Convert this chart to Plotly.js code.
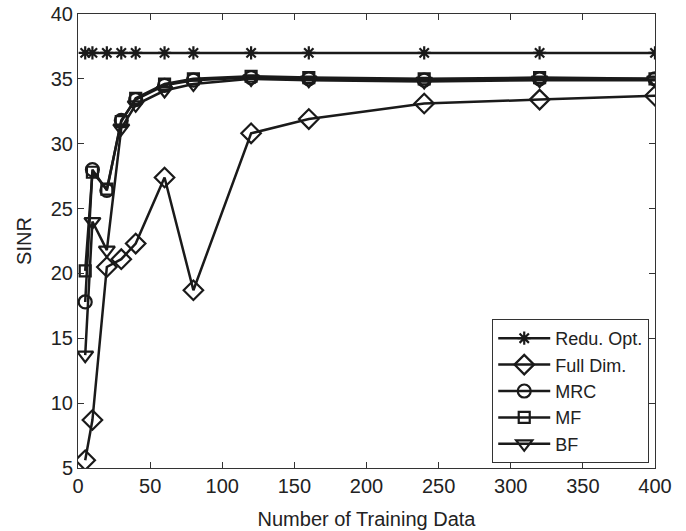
<!DOCTYPE html>
<html>
<head>
<meta charset="utf-8">
<script src="https://cdn.plot.ly/plotly-3.0.1.min.js"></script>
<style>html,body{margin:0;padding:0;background:#fff;}#chart{width:686px;height:531px;}</style>
</head>
<body>
<div id="chart"></div>
<script>
const trainingData = [5, 10, 20, 30, 40, 60, 80, 120, 160, 240, 320, 400];
const reduOpt = [37, 37, 37, 37, 37, 37, 37, 37, 37, 37, 37, 37];
const fullDim = [5.6, 8.7, 20.5, 21.1, 22.3, 27.4, 18.7, 30.8, 31.9, 33.1, 33.4, 33.7];
const mrc = [17.8, 28.0, 26.4, 31.8, 33.4, 34.5, 34.9, 35.1, 35.0, 34.9, 35.0, 35.0];
const mf = [20.2, 27.8, 26.5, 31.7, 33.5, 34.6, 35.0, 35.2, 35.1, 35.0, 35.1, 35.0];
const bf = [13.7, 24.0, 21.8, 31.2, 33.0, 34.1, 34.6, 35.0, 34.9, 34.8, 34.9, 34.9];
const seriesNames = ["Redu. Opt.", "Full Dim.", "MRC", "MF", "BF"];
const xTicks = [0, 50, 100, 150, 200, 250, 300, 350, 400];
const yTicks = [5, 10, 15, 20, 25, 30, 35, 40];

const ink = "#1a1a1a";
function tr(y, name, symbol, size) {
  return {
    x: trainingData, y: y, name: name, type: "scatter", mode: "lines+markers",
    line: {color: ink, width: 2.5},
    marker: {symbol: symbol, size: size, color: ink, line: {color: ink, width: 2.2}}
  };
}
const data = [
  tr(reduOpt, seriesNames[0], "asterisk-open", 11),
  tr(fullDim, seriesNames[1], "diamond-open", 15),
  tr(mrc, seriesNames[2], "circle-open", 13),
  tr(mf, seriesNames[3], "square-open", 11),
  tr(bf, seriesNames[4], "triangle-down-open", 14)
];
const font = {family: "Liberation Sans, Arial, sans-serif", size: 20, color: "#222"};
const layout = {
  width: 686, height: 531,
  margin: {l: 78, r: 31, t: 14, b: 63},
  paper_bgcolor: "#fff", plot_bgcolor: "#fff",
  font: font,
  showlegend: true,
  xaxis: {
    range: [0, 400], tickvals: xTicks, ticktext: xTicks.map(String),
    showgrid: false, zeroline: false, showline: true, mirror: "ticks",
    linecolor: "#333", linewidth: 1, ticks: "inside", ticklen: 6, tickcolor: "#333",
    tickfont: font,
    title: {text: "Number of Training Data", font: font, standoff: 15}
  },
  yaxis: {
    range: [5, 40], tickvals: yTicks, ticktext: yTicks.map(String),
    showgrid: false, zeroline: false, showline: true, mirror: "ticks",
    linecolor: "#333", linewidth: 1, ticks: "inside", ticklen: 6, tickcolor: "#333",
    tickfont: font,
    title: {text: "SINR", font: font, standoff: 13}
  },
  legend: {
    x: 0.99, y: 0.011, xanchor: "right", yanchor: "bottom",
    bgcolor: "#fff", bordercolor: "#333", borderwidth: 1,
    font: {family: "Liberation Sans, Arial, sans-serif", size: 18, color: "#222"},
    itemwidth: 52,
    tracegroupgap: 0
  }
};
Plotly.newPlot("chart", data, layout, {displayModeBar: false, staticPlot: true});
</script>
</body>
</html>
